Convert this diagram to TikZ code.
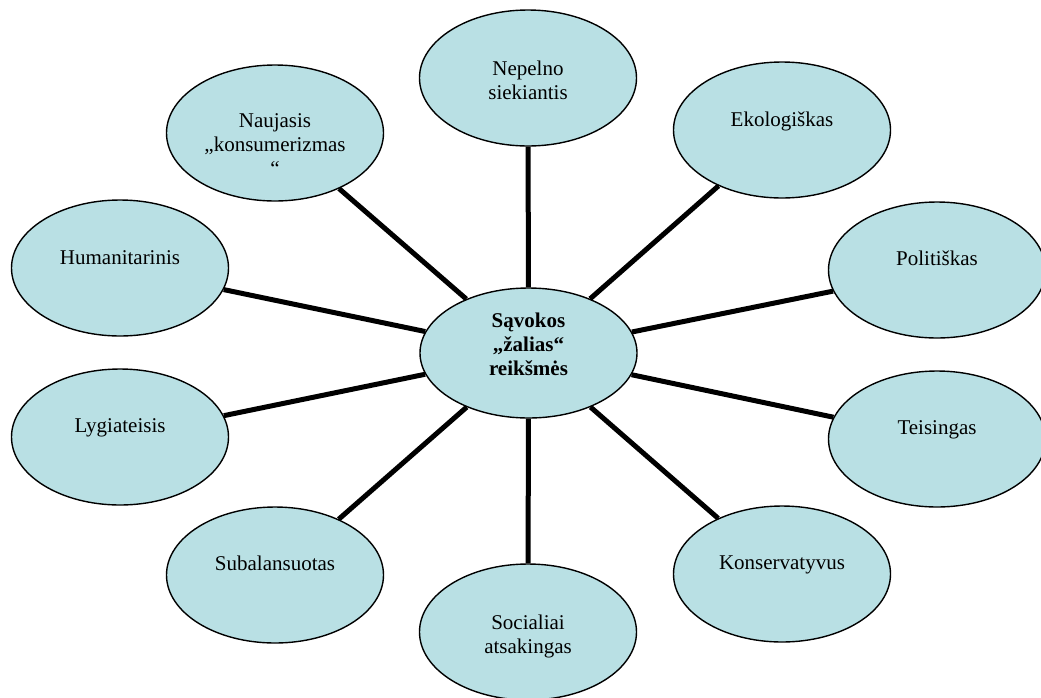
\documentclass[tikz,border=0pt]{standalone}
\usepackage{fontspec}
\setmainfont{Liberation Serif}
\usetikzlibrary{shapes.geometric}
\newcommand{\stackedlines}[1]{\begin{tabular}[t]{@{}c@{}}#1\end{tabular}}
\tikzset{
  bubble/.style={ellipse, draw=black, line width=1.4pt, fill=bubblefill,
    minimum width=217pt, minimum height=136pt, inner sep=0pt},
  hub/.style={bubble, minimum height=130pt},
  caption/.style={anchor=base, inner sep=0pt,
    font=\fontsize{21}{24}\selectfont},
  spoke/.style={line width=5pt, draw=black},
}
\definecolor{bubblefill}{HTML}{B9E0E4}
\begin{document}
\begin{tikzpicture}[x=1pt, y=-1pt]
  \useasboundingbox (0,0) rectangle (1041,697);

  % ellipses
  \node[hub]    (c)   at (528.5,353) {};
  \node[bubble] (nep) at (528,78)  {};
  \node[bubble] (eko) at (782,130) {};
  \node[bubble] (pol) at (937,270) {};
  \node[bubble] (tei) at (937,439) {};
  \node[bubble] (kon) at (782,574) {};
  \node[bubble] (soc) at (528,632) {};
  \node[bubble] (sub) at (275,575) {};
  \node[bubble] (lyg) at (120,437) {};
  \node[bubble] (hum) at (120,268) {};
  \node[bubble] (nau) at (275,133) {};

  % spokes from the hub to every ellipse
  \foreach \n in {nep,eko,pol,tei,kon,soc,sub,lyg,hum,nau}
    \draw[spoke] (c) -- (\n);

  % captions
  \node[caption, font=\fontsize{21}{24}\selectfont\bfseries] (c-t)
    at ([yshift=26pt]c.center) {\stackedlines{Sąvokos\\„žalias“\\reikšmės}};
  \node[caption] (nep-t) at ([yshift=3pt]nep.center) {\stackedlines{Nepelno\\siekiantis}};
  \node[caption] (eko-t) at ([yshift=4pt]eko.center) {Ekologiškas};
  \node[caption] (pol-t) at ([yshift=5pt]pol.center) {Politiškas};
  \node[caption] (tei-t) at ([yshift=5pt]tei.center) {Teisingas};
  \node[caption] (kon-t) at ([yshift=5pt]kon.center) {Konservatyvus};
  \node[caption] (soc-t) at ([yshift=3pt]soc.center) {\stackedlines{Socialiai\\atsakingas}};
  \node[caption] (sub-t) at ([yshift=5pt]sub.center) {Subalansuotas};
  \node[caption] (lyg-t) at ([yshift=5pt]lyg.center) {Lygiateisis};
  \node[caption] (hum-t) at ([yshift=4pt]hum.center) {Humanitarinis};
  \node[caption] (nau-t) at ([yshift=6pt]nau.center) {\stackedlines{Naujasis\\„konsumerizmas\\“}};
\end{tikzpicture}
\end{document}
